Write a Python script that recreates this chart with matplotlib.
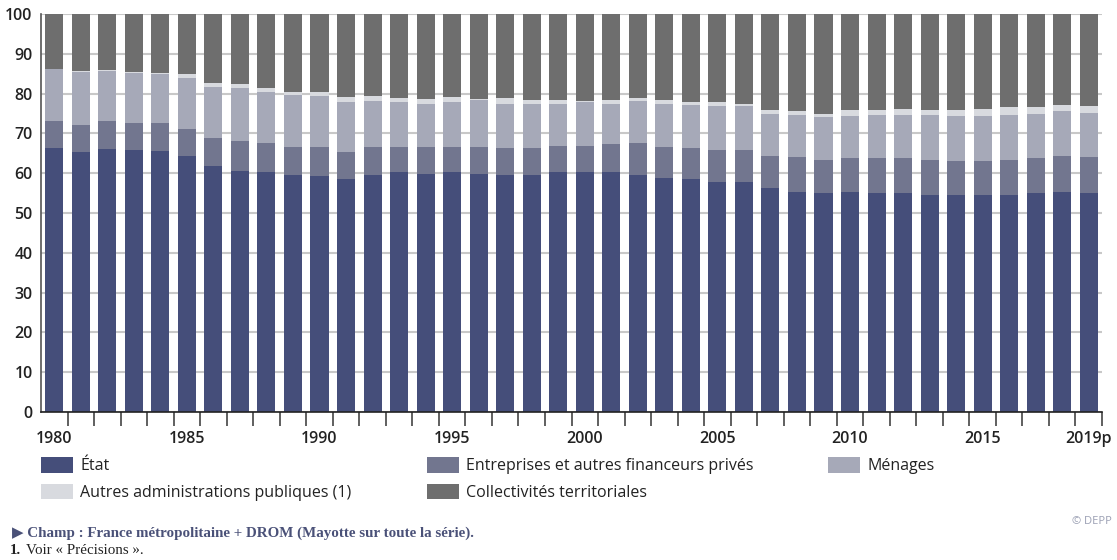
import numpy as np
import matplotlib
matplotlib.use("Agg")
import matplotlib.pyplot as plt
from matplotlib.patches import Patch

years = list(range(1980, 2020))
tick_years = [1980, 1985, 1990, 1995, 2000, 2005, 2010, 2015, 2019]
tick_labels = ["1980", "1985", "1990", "1995", "2000", "2005", "2010", "2015", "2019p"]

# shares of each financer, in %
etat = [66.3, 65.3, 66.2, 65.9, 65.6, 64.4, 61.8, 60.5, 60.2, 59.6,
        59.2, 58.6, 59.6, 60.2, 59.9, 60.2, 59.9, 59.6, 59.6, 60.2,
        60.2, 60.2, 59.6, 58.9, 58.6, 57.9, 57.9, 56.3, 55.3, 55.0,
        55.3, 55.0, 55.0, 54.4, 54.4, 54.6, 54.4, 55.0, 55.3, 55.0]
entreprises = [6.7, 6.8, 6.9, 6.7, 7.0, 6.7, 7.1, 7.7, 7.3, 7.0,
               7.4, 6.7, 7.0, 6.4, 6.7, 6.4, 6.7, 6.7, 6.7, 6.7,
               6.7, 7.1, 7.9, 7.7, 7.7, 8.0, 8.0, 8.1, 8.7, 8.3,
               8.4, 8.7, 8.7, 8.9, 8.6, 8.4, 8.9, 8.7, 9.1, 9.0]
menages = [13.1, 13.3, 12.6, 12.7, 12.3, 12.8, 12.8, 13.1, 12.9, 13.1,
           12.9, 12.5, 11.6, 11.2, 10.9, 11.2, 11.9, 11.2, 11.2, 10.6,
           10.9, 10.2, 10.7, 10.9, 10.9, 11.0, 11.0, 10.6, 10.6, 10.7,
           10.6, 10.9, 10.9, 11.3, 11.3, 11.3, 11.3, 11.3, 11.2, 11.2]
autres_apu = [0.2, 0.2, 0.2, 0.2, 0.3, 1.0, 1.0, 1.0, 0.9, 0.8,
              1.0, 1.3, 1.2, 1.0, 1.2, 1.3, 0.2, 1.3, 1.0, 1.0,
              0.4, 1.0, 0.6, 1.0, 0.6, 0.9, 0.6, 0.9, 1.0, 1.0,
              1.6, 1.3, 1.6, 1.3, 1.6, 1.9, 2.0, 1.6, 1.6, 1.6]
collectivites = [13.7, 14.4, 14.1, 14.5, 14.8, 15.1, 17.3, 17.7, 18.7, 19.5,
                 19.5, 20.9, 20.6, 21.2, 21.3, 20.9, 21.3, 21.2, 21.5, 21.5,
                 21.8, 21.5, 21.2, 21.5, 22.2, 22.2, 22.5, 24.1, 24.4, 25.0,
                 24.1, 24.1, 23.8, 24.1, 24.1, 23.8, 23.4, 23.4, 22.8, 23.2]

series = [
    ("État", etat, "#454e7a"),
    ("Entreprises et autres financeurs privés", entreprises, "#72768f"),
    ("Ménages", menages, "#a6a9b8"),
    ("Autres administrations publiques (1)", autres_apu, "#d8dadf"),
    ("Collectivités territoriales", collectivites, "#6e6e6e"),
]

plt.rcParams["font.family"] = ["Open Sans", "DejaVu Sans"]

fig = plt.figure(figsize=(11.17, 5.6), dpi=100)
ax = fig.add_axes([41 / 1117, 1 - 412 / 560, (1102 - 41) / 1117, (412 - 14) / 560])

x = np.arange(len(years))
bottom = np.zeros(len(years))
for label, vals, color in series:
    ax.bar(x, vals, width=0.68, bottom=bottom, color=color, label=label, zorder=2)
    bottom += np.array(vals)

ax.set_xlim(-0.5, len(years) - 0.5)
ax.set_ylim(0, 100)
ax.set_yticks(range(0, 101, 10))
ax.yaxis.grid(True, color="#c8c8c8", lw=1.5, zorder=0)
ax.set_axisbelow(True)

ax.set_xticks([years.index(y) for y in tick_years])
ax.set_xticklabels(tick_labels)
ax.set_xticks(x + 0.5, minor=True)
ax.tick_params(axis="x", which="major", length=0, pad=14, labelsize=11.5, labelcolor="#222222")
ax.tick_params(axis="x", which="minor", length=10, width=1.2, color="#444444")
ax.tick_params(axis="y", length=0, pad=6, labelsize=11.5, labelcolor="#222222")
for lab in ax.get_xticklabels() + ax.get_yticklabels():
    lab.set_fontweight("semibold")

for s in ["top", "right"]:
    ax.spines[s].set_visible(False)
ax.spines["left"].set_color("#555555")
ax.spines["left"].set_linewidth(1.2)
ax.spines["bottom"].set_color("#222222")
ax.spines["bottom"].set_linewidth(1.2)

# legend: rows État / Entreprises / Ménages, then Autres / Collectivités
h = {lab: Patch(facecolor=c) for lab, _, c in series}
order = ["État", "Autres administrations publiques (1)",
         "Entreprises et autres financeurs privés", "Collectivités territoriales",
         "Ménages"]
fig.legend([h[k] for k in order], order, ncol=3, frameon=False,
           loc="upper left", bbox_to_anchor=(30 / 1117, 1 - 446 / 560),
           fontsize=11.5, handlelength=2.0, handleheight=1.1,
           columnspacing=4.7, labelspacing=0.6, handletextpad=0.45,
           borderaxespad=0.3, labelcolor="#222222")

fig.text(12 / 1117, 1 - 533 / 560,
         "▶ Champ : France métropolitaine + DROM (Mayotte sur toute la série).",
         family=["Liberation Serif", "DejaVu Sans"], fontweight="bold",
         fontsize=10.8, color="#4a5178", va="center")
fig.text(10 / 1117, 1 - 550 / 560, "1.", family=["Liberation Serif"],
         fontweight="bold", fontsize=10.8, color="#222222", va="center")
fig.text(26 / 1117, 1 - 550 / 560, "Voir « Précisions ».", family=["Liberation Serif"],
         fontsize=10.8, color="#222222", va="center")
fig.text(1112 / 1117, 1 - 521 / 560, "© DEPP", fontsize=8, color="#9a9fb3",
         ha="right", va="center")

fig.savefig("out.png", dpi=100)
